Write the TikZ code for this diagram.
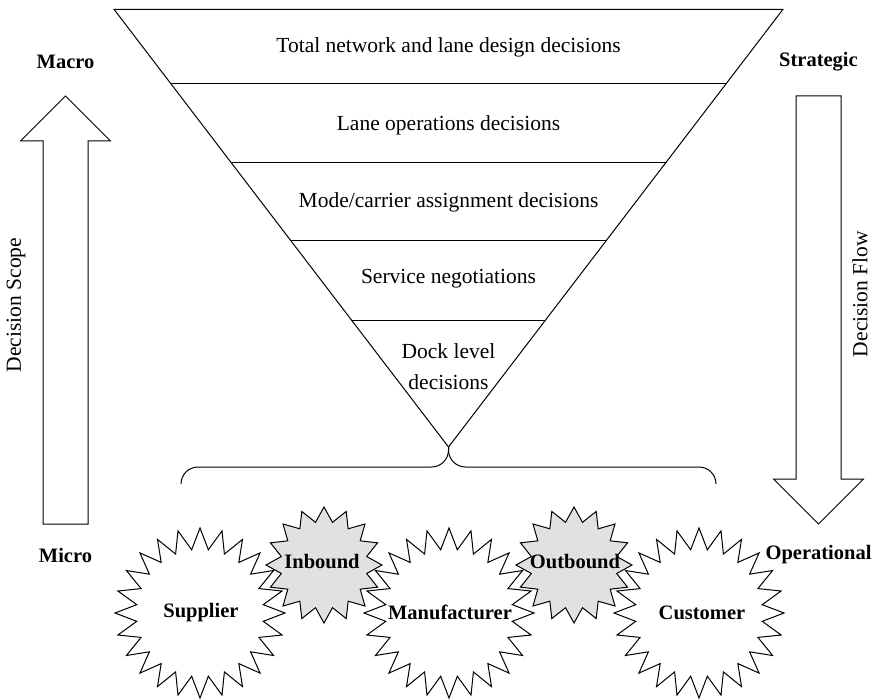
\documentclass[tikz,border=0pt]{standalone}
\usepackage{fontspec}
\setmainfont{Liberation Serif}
\usetikzlibrary{shapes.geometric}
\definecolor{burstgray}{RGB}{225,225,225}
\begin{document}
\begin{tikzpicture}[x=1pt,y=-1pt,
  outline/.style={draw=black, line width=1pt, line join=miter},
  bandtext/.style={font=\fontsize{21.5}{31}\selectfont, align=center, inner sep=0pt},
  sidelabel/.style={font=\fontsize{20.5}{24}\selectfont\bfseries, inner sep=0pt},
  axistext/.style={font=\fontsize{21.5}{26}\selectfont, rotate=90, inner sep=0pt},
  bigburst/.style={outline, star, star points=24, star point ratio=1.333,
    minimum size=170pt, inner sep=0pt, fill=white},
  smallburst/.style={bigburst, star points=16, minimum size=116pt, fill=burstgray},
  stagetext/.style={font=\fontsize{20.5}{24}\selectfont\bfseries, inner sep=0pt},
]
\useasboundingbox (0,0) rectangle (885,700);

% decision funnel
\coordinate (tl) at (114,9.3);
\coordinate (tr) at (783,9.3);
\coordinate (apex) at (448.5,447);
\draw[outline] (tl) -- (tr) -- (apex) -- cycle;
\draw[outline] (171.1,84) -- (725.9,84);
\draw[outline] (231.5,163) -- (665.5,163);
\draw[outline] (291.1,241) -- (605.9,241);
\draw[outline] (351.4,320) -- (545.6,320);

\node[bandtext] (b1) at (448.5,47) {Total network and lane design decisions};
\node[bandtext] (b2) at (448.5,125) {Lane operations decisions};
\node[bandtext] (b3) at (448.5,202) {Mode/carrier assignment decisions};
\node[bandtext] (b4) at (448.5,279) {Service negotiations};
\node[bandtext] (b5) at (448.5,367) {Dock level\\decisions};

% brace under the funnel
\draw[outline, rounded corners=17pt] (181,484) -- (181,467) -- (448.5,467) -- (apex);
\draw[outline, rounded corners=17pt] (716,484) -- (716,467) -- (448.5,467) -- (apex);

% decision scope arrow (up)
\draw[outline] (43,524) -- (43,141) -- (20.5,141) -- (65.5,96) -- (110.5,141)
  -- (88,141) -- (88,524) -- cycle;
% decision flow arrow (down)
\draw[outline] (796,96) -- (841,96) -- (841,479) -- (863.5,479) -- (818.5,524)
  -- (773.5,479) -- (796,479) -- cycle;

\node[sidelabel] (macro) at (65.5,62) {Macro};
\node[sidelabel] (micro) at (65.5,555) {Micro};
\node[sidelabel] (strat) at (818.5,62) {Strategic};
\node[sidelabel] (oper) at (818.5,555) {Operational};
\node[axistext] (scope) at (16,305) {Decision Scope};
\node[axistext] (flow) at (860,294) {Decision Flow};

% supply chain stages
\node[smallburst] (inbS) at (324,565) {};
\node[smallburst] (outbS) at (574,565) {};
\node[bigburst] (supS) at (200,613) {};
\node[bigburst] (manS) at (449,613) {};
\node[bigburst] (cusS) at (699,613) {};

\node[stagetext] (inb) at (322,562) {Inbound};
\node[stagetext] (outb) at (575,562) {Outbound};
\node[stagetext] (sup) at (201,613) {Supplier};
\node[stagetext] (man) at (450,612) {Manufacturer};
\node[stagetext] (cus) at (702,613) {Customer};
\end{tikzpicture}
\end{document}
